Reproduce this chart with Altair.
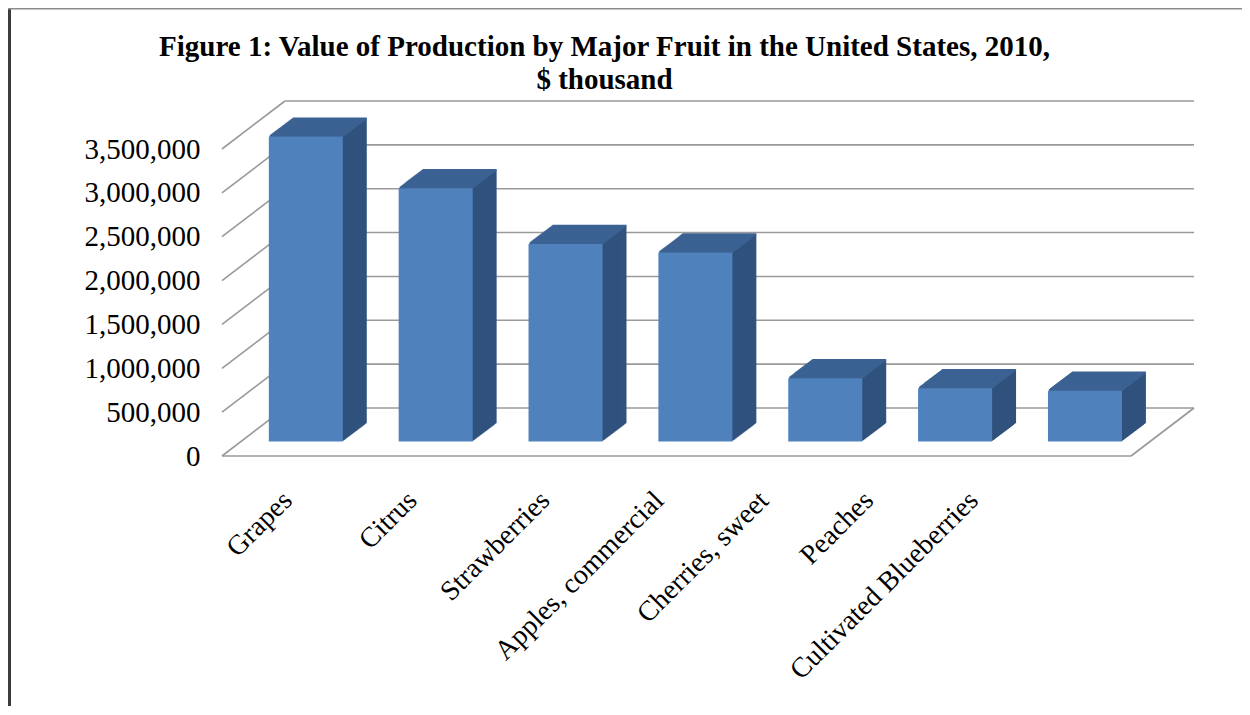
import altair as alt
import pandas as pd

# ---- data ----
fruits = ["Grapes", "Citrus", "Strawberries", "Apples, commercial",
          "Cherries, sweet", "Peaches", "Cultivated Blueberries"]
values = [3477000, 2889000, 2254000, 2155000, 723000, 609000, 581000]
tick_values = [0, 500000, 1000000, 1500000, 2000000, 2500000, 3000000, 3500000]

title_lines = ["Figure 1: Value of Production by Major Fruit in the United States, 2010,",
               "$ thousand"]

df = pd.DataFrame({"fruit": fruits, "value": values})
ticks_df = pd.DataFrame({"value": tick_values})
floor_df = pd.DataFrame({"value": [0]})

# ---- style ----
W, H = 909, 307            # plot area (front plane)
WALL_DX, WALL_DY = 63, 48  # depth of the 3-D box
BAR_FRONT = 0.30           # depth fraction of bar front face
BAR_BACK = 0.68            # depth fraction of bar back face
FRONT = "#4F81BD"
SIDE = "#30527D"
TOP = "#3B6292"
GRID = "#9a9a9a"
FONT = "Liberation Serif"
# horizontal nudges of the slanted category labels (Excel-like placement)
label_nudge = [1, -4, -1, -17, -42, -67, -92]

nudge_expr = "[" + ",".join(str(v) for v in label_nudge) + "][indexof([" + \
    ",".join("'" + f + "'" for f in fruits) + "], datum.value)]"

yscale = alt.Scale(domain=[0, 3500000], nice=False, zero=True)
yaxis = alt.Axis(values=tick_values, format=",d", title=None, grid=False,
                 domain=False, ticks=False, labelFont=FONT, labelFontSize=29,
                 labelColor="black", labelPadding=22)
xscale = alt.Scale(domain=fruits, paddingInner=0.43, paddingOuter=0.215)
xaxis = alt.Axis(title=None, domain=False, ticks=False, labelAngle=-45,
                 labelAlign="right", labelBaseline="middle", labelFont=FONT,
                 labelFontSize=28, labelColor="black", labelPadding=40,
                 labelLimit=0, labelOffset=alt.ExprRef(nudge_expr))

X = alt.X("fruit:N", sort=fruits, scale=xscale, axis=xaxis)
Y = alt.Y("value:Q", scale=yscale, axis=yaxis)

layers = []

# back wall horizontal gridlines
layers.append(alt.Chart(ticks_df).mark_rule(color=GRID, strokeWidth=1.6, yOffset=-WALL_DY)
              .encode(y=Y, x=alt.value(WALL_DX), x2=alt.value(W + WALL_DX)))
# side wall diagonal gridlines
layers.append(alt.Chart(ticks_df).mark_rule(color=GRID, strokeWidth=1.6, y2Offset=-WALL_DY)
              .encode(y=Y, y2=alt.Y2("value:Q"), x=alt.value(0), x2=alt.value(WALL_DX)))
# floor front edge
layers.append(alt.Chart(floor_df).mark_rule(color=GRID, strokeWidth=1.6)
              .encode(y=Y, x=alt.value(0), x2=alt.value(W)))
# floor right edge
layers.append(alt.Chart(floor_df).mark_rule(color=GRID, strokeWidth=1.6, y2Offset=-WALL_DY)
              .encode(y=Y, y2=alt.Y2("value:Q"), x=alt.value(W), x2=alt.value(W + WALL_DX)))

fx = BAR_FRONT * WALL_DX
fy = BAR_FRONT * WALL_DY
ddx = (BAR_BACK - BAR_FRONT) * WALL_DX
ddy = (BAR_BACK - BAR_FRONT) * WALL_DY
N = 24

# side faces (extruded copies)
for k in range(N, 0, -1):
    ox = fx + ddx * k / N
    oy = fy + ddy * k / N
    layers.append(alt.Chart(df).mark_bar(color=SIDE, xOffset=ox, x2Offset=ox,
                                         yOffset=-oy, y2Offset=-oy)
                  .encode(x=X, y=Y, y2=alt.datum(0)))
# top faces
for k in range(N, 0, -1):
    ox = fx + ddx * k / N
    oy = fy + ddy * k / N
    layers.append(alt.Chart(df).mark_bar(color=TOP, xOffset=ox, x2Offset=ox,
                                         yOffset=-oy - 1.0, y2Offset=-oy + 1.0)
                  .encode(x=X, y=Y, y2=alt.Y2("value:Q")))
# front faces
layers.append(alt.Chart(df).mark_bar(color=FRONT, xOffset=fx, x2Offset=fx,
                                     yOffset=-fy, y2Offset=-fy)
              .encode(x=X, y=Y, y2=alt.datum(0)))

# picture frame (left and top border lines)
layers.append(alt.Chart(floor_df).mark_rule(color="#3c3c3c", strokeWidth=3)
              .encode(x=alt.value(-212.5), y=alt.value(-141), y2=alt.value(570)))
layers.append(alt.Chart(floor_df).mark_rule(color="#8c8c8c", strokeWidth=1.5)
              .encode(y=alt.value(-140.3), x=alt.value(-214), x2=alt.value(1020)))

chart = alt.layer(*layers).properties(
    width=W, height=H, background="white",
    title=alt.TitleParams(text=title_lines, font=FONT, fontSize=29, fontWeight="bold",
                          color="black", anchor="middle", dx=-72, offset=-88,
                          lineHeight=33),
    autosize=alt.AutoSizeParams(type="none"),
    padding={"left": 214, "top": 141, "right": 111, "bottom": 250},
).configure_view(strokeWidth=0, stroke="transparent")

chart.save("out.html", embed_options={"renderer": "svg", "actions": False})
